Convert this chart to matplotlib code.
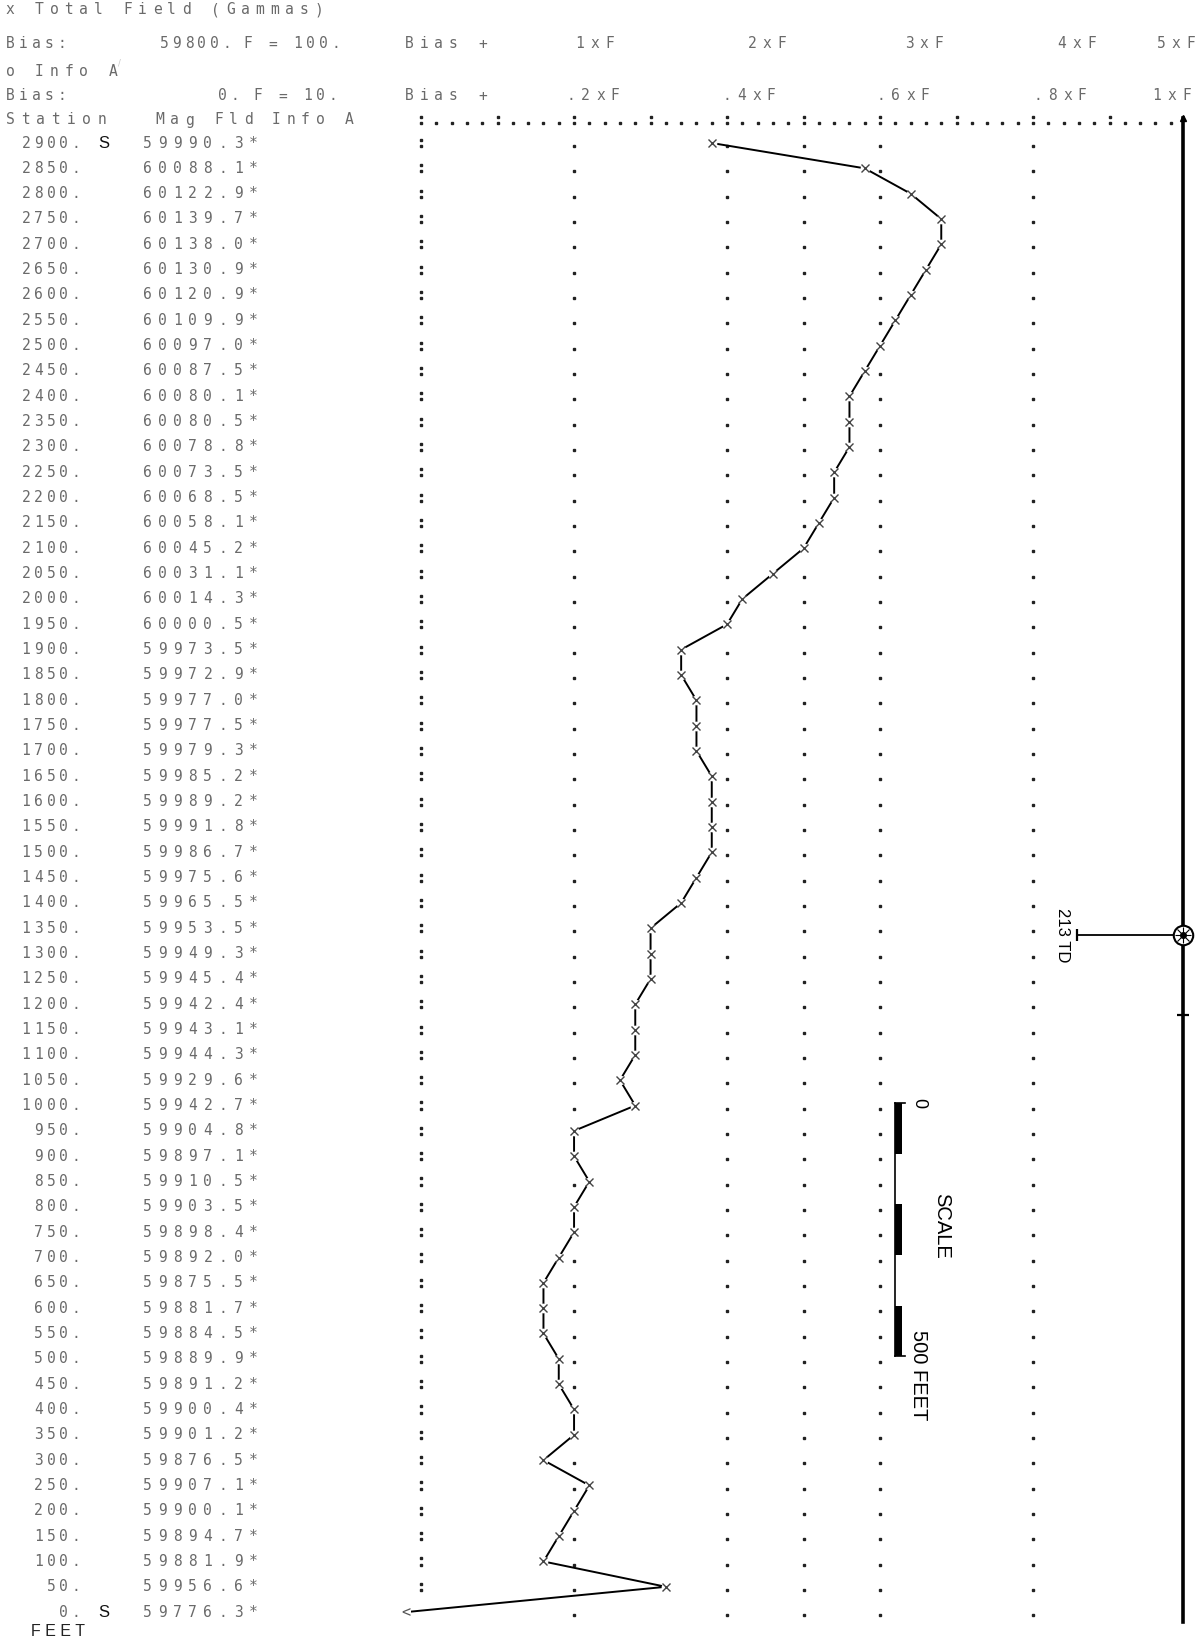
import numpy as np
import matplotlib
matplotlib.use("Agg")
import matplotlib.pyplot as plt
from matplotlib import transforms

# survey stations (feet) and total field readings (gammas)
stations = np.arange(2900, -1, -50)
mag_fld = np.array([
    59990.3, 60088.1, 60122.9, 60139.7, 60138.0, 60130.9, 60120.9, 60109.9,
    60097.0, 60087.5, 60080.1, 60080.5, 60078.8, 60073.5, 60068.5, 60058.1,
    60045.2, 60031.1, 60014.3, 60000.5, 59973.5, 59972.9, 59977.0, 59977.5,
    59979.3, 59985.2, 59989.2, 59991.8, 59986.7, 59975.6, 59965.5, 59953.5,
    59949.3, 59945.4, 59942.4, 59943.1, 59944.3, 59929.6, 59942.7, 59904.8,
    59897.1, 59910.5, 59903.5, 59898.4, 59892.0, 59875.5, 59881.7, 59884.5,
    59889.9, 59891.2, 59900.4, 59901.2, 59876.5, 59907.1, 59900.1, 59894.7,
    59881.9, 59956.6, 59776.3,
])
end_stations = [2900, 0]

bias = 59800.0
F = 100.0
guide_cols = [59900, 60000, 60050, 60100, 60200]
top_labels = ["1xF", "2xF", "3xF", "4xF", "5xF"]
info_labels = [".2xF", ".4xF", ".6xF", ".8xF", "1xF"]

td_station = 1336
td_label = "213 TD"
scale_top = 1005
scale_feet = 500

W, H = 1198, 1645
fig = plt.figure(figsize=(W / 100, H / 100), dpi=100)
ax = fig.add_axes([0, 0, 1, 1])
ax.set_xlim(59524.8, 60307.8)
ax.set_ylim(-64.9, 3182.3)
ax.axis("off")

GREY = "#6a6a6a"
MONO = "DejaVu Sans Mono"
row_tr = transforms.blended_transform_factory(ax.transAxes, ax.transData)


def put(x, y, s, pitch=14.7):
    # header line, x/y in figure pixels (centre of first char)
    for i, ch in enumerate(s):
        if ch != " ":
            fig.text((x + i * pitch) / W, 1 - y / H, ch, ha="center", va="center",
                     family=MONO, size=10.5, color=GREY)


def put_row(x, st, s, pitch):
    for i, ch in enumerate(s):
        if ch != " ":
            ax.text((x + i * pitch) / W, st, ch, transform=row_tr, ha="center",
                    va="center", family=MONO, size=10.5, color=GREY)


# header
put(10, 10, "x Total Field (Gammas)")
put(10, 44, "Bias:", 13)
put(164, 44, f"{bias:.0f}.", 12.5)
put(248, 44, f"F = {F:.0f}.", 12.5)
put(409, 44, "Bias +")
for lbl, x in zip(top_labels, [580, 752, 909, 1062, 1161]):
    put(x, 44, lbl)
put(10, 71, "o Info A")
fig.text(118 / W, 1 - 66 / H, "/", size=6, color="#c8c8c8")
put(10, 96, "Bias:", 13)
put(222, 96, "0.", 12.5)
put(258, 96, "F = 10.", 12.5)
put(409, 96, "Bias +")
for lbl, x in zip(info_labels, [571, 727, 881, 1038, 1157]):
    put(x, 96, lbl)
put(10, 120, "Station", 15.3)
put(160, 120, "Mag Fld")
put(276, 120, "Info A")

# header dotted scale line
hdr = 2945
g = np.arange(bias, bias + 500, 10)
major = ((g - bias) % 50) == 0
ax.plot(g, np.full(g.size, hdr - 6), "s", ms=2.0, color="#222")
ax.plot(g[major], np.full(major.sum(), hdr + 6), "s", ms=2.0, color="#222")

# table rows
for st, v in zip(stations, mag_fld):
    lbl = f"{st}."
    put_row(76 - (len(lbl) - 1) * 12.5, st, lbl, 12.5)
    put_row(147, st, f"{v:.1f}*", 15.2)
    if st in end_stations:
        ax.text(104 / W, st, "S", transform=row_tr, ha="center", va="center",
                family="Liberation Sans", size=12, color="#111")
fig.text(31 / W, 1 - 1632 / H, "F E E T", ha="left", va="center",
         family="Liberation Sans", size=11.5, color="#222")

# printer-plot columns (10 gammas per character)
cols = np.round((mag_fld - bias) / 10)
xq = bias + 10 * np.clip(cols, -1, 50)
on = cols >= 0

dx, dy, cx, cy = [], [], [], []
for st, c in zip(stations, cols):
    for gc in guide_cols:
        if round((gc - bias) / 10) != c:
            dx.append(gc)
            dy.append(st - 6)
    if c > 0:
        cx += [bias, bias]
        cy += [st - 6, st + 6]
ax.plot(dx, dy, "s", ms=2.0, color="#222", ls="none")
ax.plot(cx, cy, "s", ms=2.0, color="#222", ls="none")

ax.plot(xq, stations, color="black", lw=1.4, zorder=2)
ax.plot(xq[on], stations[on], "o", ms=7, mfc="white", mec="none", zorder=3)
ax.plot(xq[on], stations[on], "x", ms=5.5, mew=1.0, color="#444", zorder=4)
for xv, sv in zip(xq[~on], stations[~on]):
    ax.text(xv, sv, "<", ha="center", va="center", family=MONO, size=11,
            color="#555", zorder=4, bbox=dict(fc="white", ec="none", pad=0.5))

# well line and 213 TD marker
xw = bias + 498
ax.plot([xw, xw], [2950, -20], color="black", lw=2.6, zorder=2)
ax.plot(xw, 2950, "^", ms=4, color="black")
ax.plot(xw, 1179, "_", ms=8, mew=1.6, color="black")
ax.plot([60229, xw], [td_station, td_station], color="black", lw=1.3)
ax.plot(60229, td_station, "|", ms=9, mew=1.6, color="black")
ax.plot(xw, td_station, "o", ms=14, mfc="white", mec="black", mew=1.5, zorder=5)
ax.plot(xw, td_station, "+", ms=12, mew=0.8, color="black", zorder=6)
ax.plot(xw, td_station, "x", ms=8, mew=0.8, color="black", zorder=6)
ax.plot(xw, td_station, "o", ms=4, color="black", zorder=7)
ax.text(60219, td_station, td_label, rotation=-90, ha="center", va="center",
        family="Liberation Sans", size=12, color="black")

# scale bar (station feet)
sx = 60110
ax.plot([sx, sx], [scale_top, scale_top - scale_feet], color="black", lw=1.2)
for k in range(0, scale_feet, 200):
    ax.fill_betweenx([scale_top - k, scale_top - k - 100], sx, sx + 4.5,
                     color="black", lw=0)
for yv in [scale_top, scale_top - scale_feet]:
    ax.plot([sx, sx + 6], [yv, yv], color="black", lw=1.2)
ax.text(60125, scale_top, "0", rotation=-90, ha="center", va="center",
        family="Liberation Sans", size=13)
ax.text(60140, scale_top - 242, "SCALE", rotation=-90, ha="center", va="center",
        family="Liberation Sans", size=14.5)
ax.text(60125, scale_top - 448, f"{scale_feet} FEET", rotation=-90, ha="center",
        va="top", family="Liberation Sans", size=14.5)

fig.savefig("out.png", dpi=100, facecolor="white")
